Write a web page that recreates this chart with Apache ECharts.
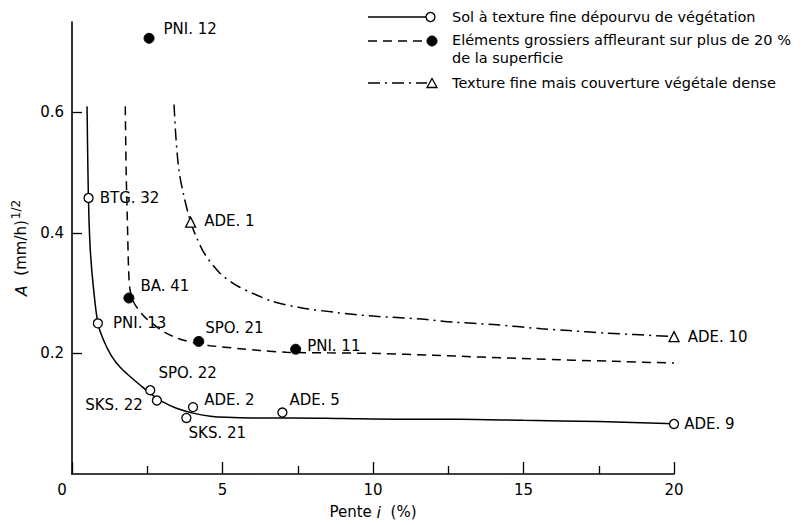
<!DOCTYPE html>
<html><head><meta charset="utf-8">
<script src="https://cdn.jsdelivr.net/npm/echarts@6/dist/echarts.min.js"></script>
<style>html,body{margin:0;padding:0;background:#fff}#c{width:807px;height:525px}</style>
</head><body><div id="c"></div>
<script>
// ---- tick values ----
const xTickValues = [0, 5, 10, 15, 20];
const yTickValues = [0.2, 0.4, 0.6];

// ---- fitted curves ----
const solidCurveX = [0.5, 0.53, 0.56, 0.61, 0.7, 0.86, 1.05, 1.31, 1.6, 1.9, 2.3, 2.7, 3.0, 3.47, 4.02, 4.6, 5.13, 6, 7.34, 9, 10.89, 12.88, 15, 17.5, 19.75, 20];
const solidCurveY = [0.61, 0.5, 0.43, 0.37, 0.315, 0.25, 0.222, 0.196, 0.177, 0.163, 0.146, 0.13, 0.12, 0.109, 0.101, 0.096, 0.094, 0.093, 0.093, 0.092, 0.091, 0.091, 0.089, 0.087, 0.084, 0.083];

const dashedCurveX = [1.77, 1.8, 1.84, 1.88, 1.93, 2.05, 2.25, 2.49, 3.02, 3.52, 4.21, 4.57, 5.57, 6.24, 7.12, 8.5, 10.2, 12, 15.3, 18, 20];
const dashedCurveY = [0.61, 0.5, 0.42, 0.34, 0.305, 0.285, 0.27, 0.257, 0.237, 0.225, 0.216, 0.213, 0.208, 0.205, 0.202, 0.201, 0.2, 0.197, 0.191, 0.187, 0.184];

const dashDotCurveX = [3.39, 3.45, 3.55, 3.7, 3.94, 4.16, 4.41, 4.9, 5.46, 6.13, 6.68, 7.6, 8.78, 10, 11.6, 12.66, 14, 15.6, 16.5, 17.7, 20];
const dashDotCurveY = [0.613, 0.56, 0.505, 0.465, 0.418, 0.39, 0.365, 0.334, 0.313, 0.297, 0.286, 0.276, 0.268, 0.262, 0.257, 0.252, 0.248, 0.241, 0.238, 0.234, 0.228];

// ---- measured points ----
const openNames = ['BTG. 32', 'PNI. 13', 'SPO. 22', 'SKS. 22', 'ADE. 2', 'SKS. 21', 'ADE. 5', 'ADE. 9'];
const openX = [0.55, 0.86, 2.6, 2.82, 4.02, 3.8, 6.99, 20];
const openY = [0.458, 0.25, 0.139, 0.122, 0.111, 0.093, 0.102, 0.083];

const filledNames = ['PNI. 12', 'BA. 41', 'SPO. 21', 'PNI. 11'];
const filledX = [2.56, 1.89, 4.21, 7.43];
const filledY = [0.723, 0.292, 0.22, 0.207];

const triNames = ['ADE. 1', 'ADE. 10'];
const triX = [3.94, 20];
const triY = [0.418, 0.228];

const legendTexts = ['Sol à texture fine dépourvu de végétation', 'Eléments grossiers affleurant sur plus de 20 %', 'de la superficie', 'Texture fine mais couverture végétale dense'];

// ---- label placement (style only) ----
const labelPlace = {
  'PNI. 12': ['right', [4, -9]],
  'BTG. 32': ['right', [1, 0]],
  'ADE. 1': ['right', [3, -1]],
  'BA. 41': ['right', [1, -12]],
  'PNI. 13': ['right', [5, 0]],
  'SPO. 21': ['right', [-4, -13]],
  'PNI. 11': ['right', [1, -3]],
  'SPO. 22': ['right', [-2, -17]],
  'SKS. 22': ['left', [-4, 5]],
  'ADE. 2': ['right', [1, -7]],
  'SKS. 21': ['right', [-8, 15]],
  'ADE. 5': ['right', [-3, -13]],
  'ADE. 9': ['right', [0, 0]],
  'ADE. 10': ['right', [3, 0]]
};

const FONT = 'DejaVu Sans';
const INK = '#000';

function pairs(xs, ys) { return xs.map((x, i) => [x, ys[i]]); }
function pts(names, xs, ys) {
  return names.map((n, i) => {
    const p = labelPlace[n];
    return { name: n, value: [xs[i], ys[i]], label: { position: p[0], offset: p[1] } };
  });
}

const chart = echarts.init(document.getElementById('c'), null, { renderer: 'svg' });

const labelBase = { show: true, formatter: '{b}', color: INK, fontFamily: FONT, fontSize: 15, distance: 5 };

chart.setOption({
  animation: false,
  backgroundColor: '#fff',
  textStyle: { fontFamily: FONT, color: INK },
  grid: { left: 72, right: 133, top: 22, bottom: 47 },
  xAxis: {
    type: 'value', min: 0, max: 20, interval: 5,
    name: '{n|Pente }{i|i}{n|  (%)}', nameLocation: 'middle', nameGap: 30,
    nameTextStyle: { rich: { n: { fontFamily: FONT, fontSize: 15, color: INK }, i: { fontFamily: FONT, fontSize: 16, fontStyle: 'italic', color: INK } } },
    axisLine: { lineStyle: { color: INK, width: 1.6 } },
    axisTick: { inside: true, length: 12, lineStyle: { color: INK, width: 1.3 } },
    minorTick: { show: true, splitNumber: 2, length: 8, lineStyle: { color: INK, width: 1.3 } },
    axisLabel: {
      color: INK, fontFamily: FONT, fontSize: 15, margin: 8,
      formatter: v => v === 0 ? '{z|0}' : String(v),
      rich: { z: { padding: [0, 20, 0, 0], fontFamily: FONT, fontSize: 15, color: INK } }
    },
    splitLine: { show: false }
  },
  yAxis: {
    type: 'value', min: 0, max: 0.75, interval: 0.2,
    name: '{i|A}{n|  (mm/h)}{s|1/2}', nameLocation: 'middle', nameRotate: 90, nameGap: 38,
    nameTextStyle: {
      rich: {
        i: { fontFamily: FONT, fontSize: 16, fontStyle: 'italic', color: INK },
        n: { fontFamily: FONT, fontSize: 15, color: INK },
        s: { fontFamily: FONT, fontSize: 12, color: INK, padding: [0, 0, 10, 1] }
      }
    },
    axisLine: { lineStyle: { color: INK, width: 1.6 } },
    axisTick: { inside: true, length: 10, customValues: yTickValues, lineStyle: { color: INK, width: 1.3 } },
    axisLabel: { color: INK, fontFamily: FONT, fontSize: 15, margin: 8, customValues: yTickValues, formatter: v => v.toFixed(1) },
    splitLine: { show: false }
  },
  series: [
    { type: 'line', data: pairs(solidCurveX, solidCurveY), showSymbol: false, smooth: 0.3,
      lineStyle: { color: INK, width: 1.5, type: 'solid' }, z: 2 },
    { type: 'line', data: pairs(dashedCurveX, dashedCurveY), showSymbol: false, smooth: 0.3,
      lineStyle: { color: INK, width: 1.5, type: [9, 6] }, z: 2 },
    { type: 'line', data: pairs(dashDotCurveX, dashDotCurveY), showSymbol: false, smooth: 0.3,
      lineStyle: { color: INK, width: 1.5, type: [12, 5, 2, 5] }, z: 2 },
    { type: 'scatter', data: pts(openNames, openX, openY), symbol: 'circle', symbolSize: 9,
      itemStyle: { color: '#fff', borderColor: INK, borderWidth: 1.3, opacity: 1 }, label: labelBase, z: 5 },
    { type: 'scatter', data: pts(filledNames, filledX, filledY), symbol: 'circle', symbolSize: 10,
      itemStyle: { color: INK, borderColor: INK, borderWidth: 1, opacity: 1 }, label: labelBase, z: 5 },
    { type: 'scatter', data: pts(triNames, triX, triY), symbol: 'triangle', symbolSize: 10,
      itemStyle: { color: '#fff', borderColor: INK, borderWidth: 1.3, opacity: 1 }, label: labelBase, z: 5 }
  ],
  graphic: [
    { type: 'line', shape: { x1: 368, y1: 17, x2: 426, y2: 17 }, style: { stroke: INK, lineWidth: 1.5 } },
    { type: 'circle', shape: { cx: 430.5, cy: 17, r: 4.5 }, style: { fill: '#fff', stroke: INK, lineWidth: 1.3 } },
    { type: 'text', x: 452, y: 17, style: { text: legendTexts[0], font: '14.5px "DejaVu Sans"', fill: INK, verticalAlign: 'middle' } },
    { type: 'line', shape: { x1: 368, y1: 41, x2: 427, y2: 41 }, style: { stroke: INK, lineWidth: 1.5, lineDash: [9, 6] } },
    { type: 'circle', shape: { cx: 432, cy: 41, r: 5 }, style: { fill: INK, stroke: INK, lineWidth: 1 } },
    { type: 'text', x: 452, y: 40, style: { text: legendTexts[1], font: '14.5px "DejaVu Sans"', fill: INK, verticalAlign: 'middle' } },
    { type: 'text', x: 452, y: 58, style: { text: legendTexts[2], font: '14.5px "DejaVu Sans"', fill: INK, verticalAlign: 'middle' } },
    { type: 'line', shape: { x1: 368, y1: 83, x2: 427, y2: 83 }, style: { stroke: INK, lineWidth: 1.5, lineDash: [12, 5, 2, 5] } },
    { type: 'polygon', shape: { points: [[427, 87.5], [437, 87.5], [432, 78.5]] }, style: { fill: '#fff', stroke: INK, lineWidth: 1.3 } },
    { type: 'text', x: 452, y: 83, style: { text: legendTexts[3], font: '14.5px "DejaVu Sans"', fill: INK, verticalAlign: 'middle' } }
  ]
});
</script>
</body></html>
